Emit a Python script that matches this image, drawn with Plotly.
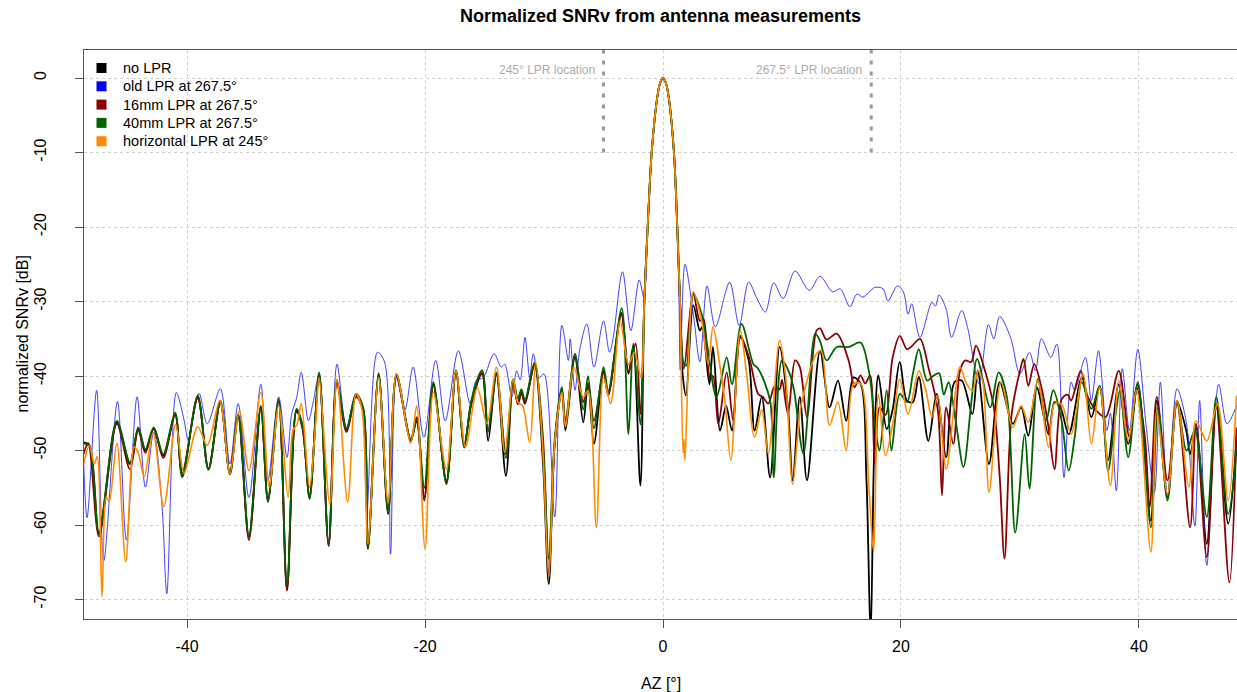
import plotly.graph_objects as go

# ---------------- data ----------------
series_names = ["no LPR", "old LPR at 267.5°", "16mm LPR at 267.5°",
                "40mm LPR at 267.5°", "horizontal LPR at 245°"]
series_colors = ["#000000", "#2b2bff", "#8b0000", "#006400", "#ff8c00"]
legend_colors = ["#000000", "#0000ff", "#8b0000", "#006400", "#ff8c00"]
series_widths = [1.8, 0.9, 1.8, 1.8, 1.6]

az_no_lpr = [-48.7, -48.2, -47.4, -45.9, -44.8, -44.1, -43.5, -42.8, -42.0, -41.0, -40.4, -39.1, -38.2,
             -37.2, -36.4, -35.7, -34.8, -33.8, -33.2, -32.3, -31.6, -30.8, -30.3, -29.7, -28.9, -28.1,
             -27.4, -26.6, -25.8, -25.2, -24.8, -23.9, -23.1, -22.4, -21.2, -20.7, -20.06, -19.3, -18.2,
             -17.4, -16.7, -16.1, -15.2, -14.7, -14.0, -13.2, -12.6, -12.2, -11.9, -11.6, -10.8, -10.1,
             -9.6, -9.1, -8.5, -8.2, -7.4, -6.7, -6.3, -5.8, -5.0, -4.6, -3.5, -2.9, -2.5, -1.9,
             -1.57, -1.29, -0.95, -0.5, -0.25, 0.0, 0.25, 0.5, 0.92, 1.2, 1.43,
             1.65, 1.93, 2.55, 3.1, 3.3, 3.9, 4.2, 4.8, 5.3, 5.8, 6.5, 7.2, 7.7, 8.3, 9.0, 9.8, 10.5,
             10.9, 11.5, 12.1, 13.2, 14.0, 14.7, 15.4, 16.0, 16.6, 17.1, 17.45, 17.75, 18.1, 18.8, 19.3,
             19.9, 20.5, 21.0, 21.5, 22.3, 23.0, 23.8, 24.5, 25.1, 26.0, 26.45, 27.4, 28.3, 29.4, 30.1,
             30.7, 31.4, 32.4, 32.9, 33.4, 34.1, 35.2, 36.0, 36.7, 37.4, 38.3, 39.1, 39.9, 41.0, 41.5,
             42.4, 43.2, 44.0, 44.3, 44.8, 45.7, 46.5, 47.5, 48.2]
snr_no_lpr = [-48.9, -49.3, -61.2, -46.2, -51.8, -47.1, -50.0, -47.1, -50.7, -45.1, -53.4, -42.8, -52.5,
              -43.5, -53.1, -45.3, -61.6, -44.2, -56.7, -43.3, -68.6, -44.6, -46.8, -56.3, -39.7, -62.8,
              -40.8, -47.3, -42.6, -44.4, -63.2, -39.8, -58.5, -39.9, -48.7, -46.0, -56.3, -41.1, -54.3,
              -39.3, -49.1, -43.7, -39.7, -48.7, -39.7, -53.4, -40.6, -43.7, -42.2, -43.7, -38.4, -51.3,
              -67.9, -49.1, -41.9, -47.3, -37.5, -46.2, -40.9, -49.1, -39.3, -42.4, -31.7, -39.7, -35.9, -54.7,
              -30.0, -20.0, -10.0, -2.8, -0.7, 0.0, -0.7, -2.8, -10.0, -20.0, -30.0,
              -39.7, -42.6, -30.5, -33.9, -33.4, -41.1, -36.1, -47.3, -44.0, -47.3, -34.8, -37.9, -47.3,
              -42.8, -53.6, -36.1, -44.2, -54.0, -42.8, -54.0, -36.6, -44.2, -40.6, -46.0, -40.2, -41.0,
              -54.0, -75.0, -50.0, -39.9, -47.1, -44.5, -38.1, -43.3, -43.5, -40.1, -48.7, -42.4, -50.9,
              -40.8, -40.6, -45.1, -39.3, -51.8, -40.8, -46.4, -44.2, -48.0, -41.5, -47.8, -43.5, -44.2,
              -47.8, -40.2, -45.5, -41.5, -51.3, -41.1, -49.1, -41.1, -59.4, -43.3, -56.3, -43.5, -47.5,
              -50.5, -46.9, -62.5, -43.7, -59.8, -48.2]

az_old_lpr = [-48.7, -48.4, -47.6, -47.0, -45.85, -45.1, -44.2, -43.5, -42.8, -42.1, -41.7, -40.9, -40.25,
              -39.9, -39.0, -38.3, -37.2, -36.4, -35.7, -34.8, -33.8, -33.2, -32.3, -31.6, -31.2, -30.8,
              -30.4, -29.8, -29.4, -28.9, -28.1, -27.4, -26.6, -25.8, -25.3, -24.9, -24.0, -23.4, -22.9,
              -22.4, -21.7, -21.0, -20.1, -19.1, -18.3, -17.2, -16.2, -15.7, -15.1, -14.2, -13.6, -13.3,
              -12.7, -12.3, -12.0, -11.6, -11.2, -10.9, -10.4, -10.0, -9.1, -8.5, -7.95, -7.8, -7.4,
              -7.0, -6.4, -5.8, -5.0, -4.5, -4.2, -3.4, -2.7, -2.0, -1.6,
              -1.29, -0.95, -0.5, -0.25, 0.0, 0.25, 0.5, 0.92, 1.2, 1.35,
              1.45, 1.85, 2.55, 3.1, 3.7, 4.4, 5.6, 6.4, 7.2, 7.9, 8.6, 9.3, 10.1, 11.1, 12.3, 13.2,
              14.25, 14.9, 15.7, 16.3, 16.8, 17.8, 18.5, 18.9, 19.7, 20.2, 20.6, 20.9, 21.6, 22.6, 22.9,
              23.2, 23.8, 24.25, 25.1, 25.6, 26.55, 27.35, 27.8, 28.3, 29.2, 30.0, 30.8, 31.3, 31.8,
              32.6, 33.1, 33.7, 34.3, 34.6, 35.5, 36.0, 36.6, 37.3, 37.6, 38.1, 38.6, 39.2, 39.9, 40.6,
              41.3, 41.8, 42.4, 43.2, 44.0, 44.7, 45.1, 45.7, 46.7, 47.4, 48.2]
snr_old_lpr = [-51.3, -59.0, -41.9, -64.8, -43.4, -62.0, -42.8, -54.9, -47.5, -57.5, -69.2, -42.2, -45.9,
               -48.6, -42.3, -46.4, -41.7, -51.8, -43.7, -56.3, -41.1, -54.0, -42.8, -50.9, -45.0, -43.0,
               -39.5, -46.0, -43.5, -39.7, -62.8, -38.4, -46.9, -42.4, -44.0, -58.5, -36.8, -38.1, -63.9,
               -40.2, -44.6, -38.8, -48.2, -37.9, -46.0, -36.6, -43.7, -40.6, -40.2, -37.0, -38.8, -38.4,
               -42.8, -39.3, -40.5, -34.8, -40.2, -37.0, -40.2, -39.7, -58.9, -33.2, -37.9, -35.0, -41.9,
               -36.5, -33.0, -38.8, -32.6, -36.8, -35.0, -26.0, -33.9, -27.1, -29.5,
               -20.0, -10.0, -2.8, -0.7, 0.0, -0.7, -2.8, -10.0, -20.0, -30.0,
               -39.2, -25.0, -31.7, -38.1, -27.9, -33.4, -27.4, -33.2, -27.4, -29.6, -31.4, -27.5, -29.6,
               -25.9, -28.5, -26.6, -28.7, -28.3, -30.7, -29.0, -29.4, -28.1, -28.3, -29.9, -27.9, -28.7,
               -31.7, -30.3, -34.8, -30.1, -30.6, -29.1, -31.0, -34.8, -31.2, -33.5, -41.0, -33.1, -35.0,
               -32.0, -34.8, -39.7, -36.8, -39.3, -35.0, -37.5, -35.7, -53.6, -40.8, -41.9, -37.5, -43.3,
               -36.6, -47.3, -45.0, -55.4, -39.0, -47.3, -36.4, -46.6, -55.6, -40.8, -56.3, -41.7, -46.4,
               -60.1, -43.3, -65.4, -41.1, -46.4, -44.0]

az_16mm = [-48.7, -48.3, -47.4, -45.9, -44.8, -44.1, -43.5, -42.8, -42.0, -41.0, -40.4, -39.1, -38.2,
           -37.2, -36.4, -35.7, -34.8, -33.8, -33.2, -32.3, -31.6, -30.8, -30.3, -29.7, -28.9, -28.1,
           -27.4, -26.6, -25.8, -25.2, -24.8, -23.9, -23.1, -22.4, -21.2, -20.7, -20.06, -19.3, -18.2,
           -17.4, -16.7, -16.1, -15.2, -14.7, -14.0, -13.2, -12.6, -12.2, -11.9, -11.6, -10.8, -10.1,
           -9.6, -9.1, -8.5, -8.2, -7.4, -6.7, -6.3, -5.8, -5.0, -4.6, -3.5, -2.9, -2.3, -1.9,
           -1.57, -1.29, -0.95, -0.5, -0.25, 0.0, 0.25, 0.5, 0.92, 1.2, 1.43,
           1.76, 2.55, 3.1, 3.4, 3.95, 4.2, 4.65, 5.35, 5.9, 6.5, 7.3, 8.0, 8.4, 8.85, 9.4, 9.8, 10.0,
           10.5, 11.1, 11.5, 12.1, 12.9, 13.2, 13.75, 14.6, 15.6, 16.1, 16.6, 17.0, 17.4, 17.8, 18.2,
           18.7, 19.3, 19.9, 20.5, 20.9, 21.6, 22.3, 23.1, 23.45, 23.8, 24.4, 24.96, 25.4, 25.9, 26.3,
           26.9, 27.8, 28.3, 28.7, 29.3, 30.0, 30.3, 30.7, 31.2, 31.8, 32.4, 32.9, 33.5, 34.0, 34.3,
           35.1, 35.7, 36.4, 37.2, 38.3, 39.2, 39.8, 40.5, 40.9, 41.5, 42.4, 43.2, 44.3, 44.8, 45.7,
           46.5, 47.6, 48.2]
snr_16mm = [-50.5, -49.0, -61.5, -46.4, -52.5, -47.3, -50.3, -47.0, -51.0, -45.2, -53.0, -43.0, -52.4,
            -43.6, -53.0, -45.5, -62.0, -44.3, -56.5, -43.4, -68.8, -44.8, -47.0, -56.0, -39.9, -62.5,
            -41.0, -47.5, -42.8, -44.6, -63.0, -40.0, -58.0, -40.0, -48.5, -45.5, -56.7, -41.3, -54.0,
            -39.5, -49.3, -43.5, -39.5, -47.3, -39.8, -50.5, -40.8, -43.8, -42.3, -43.5, -38.6, -48.0,
            -66.5, -49.0, -41.8, -46.0, -37.3, -43.5, -41.0, -46.0, -39.5, -42.6, -31.5, -39.5, -35.6, -45.1,
            -30.0, -20.0, -10.0, -2.8, -0.7, 0.0, -0.7, -2.8, -10.0, -20.0, -30.0,
            -39.0, -29.0, -32.6, -32.3, -40.2, -40.0, -46.4, -39.5, -46.0, -34.6, -37.9, -42.4, -42.8,
            -43.7, -41.3, -41.8, -40.5, -45.1, -37.9, -38.8, -45.5, -33.9, -33.6, -35.1, -34.3, -37.9,
            -41.5, -39.9, -41.0, -39.9, -51.8, -44.2, -45.2, -37.5, -34.6, -36.4, -36.0, -35.0, -38.8,
            -44.6, -56.0, -44.2, -49.1, -39.3, -37.9, -38.1, -35.9, -38.4, -44.2, -53.6, -64.5, -45.1,
            -39.3, -37.7, -41.3, -38.4, -41.5, -46.9, -52.5, -43.1, -42.5, -43.3, -39.3, -42.8, -44.6,
            -45.5, -39.3, -48.2, -41.5, -48.2, -57.6, -42.8, -54.0, -43.7, -60.3, -46.4, -64.3, -44.2,
            -67.7, -46.9]

az_40mm = [-48.7, -48.2, -47.4, -45.9, -44.8, -44.1, -43.5, -42.8, -42.0, -41.0, -40.4, -39.1, -38.2,
           -37.2, -36.4, -35.7, -34.8, -33.8, -33.2, -32.3, -31.6, -30.8, -30.3, -29.7, -28.9, -28.1,
           -27.4, -26.6, -25.8, -25.2, -24.8, -23.9, -23.1, -22.4, -21.2, -20.7, -20.06, -19.3, -18.2,
           -17.4, -16.7, -16.1, -15.2, -14.7, -14.0, -13.2, -12.6, -12.2, -11.9, -11.6, -10.8, -10.1,
           -9.6, -9.1, -8.5, -8.2, -7.4, -6.7, -6.3, -5.8, -5.0, -4.6, -3.47, -2.9, -2.5, -1.9,
           -1.57, -1.29, -0.95, -0.5, -0.25, 0.0, 0.25, 0.5, 0.92, 1.2, 1.43,
           1.7, 1.95, 2.55, 3.25, 3.7, 4.5, 5.35, 5.8, 6.6, 7.6, 8.0, 9.0, 9.3, 10.0, 10.6, 11.0, 11.8,
           12.8, 13.2, 13.75, 14.6, 15.6, 16.6, 17.3, 17.95, 18.2, 18.8, 19.2, 19.9, 20.5, 21.0, 21.5,
           22.2, 22.7, 23.2, 23.6, 24.0, 24.6, 25.25, 25.9, 26.4, 27.5, 28.2, 28.9, 29.6, 30.4, 30.8,
           31.5, 32.2, 32.8, 33.5, 34.1, 34.6, 35.2, 36.0, 36.7, 37.4, 38.0, 38.4, 39.1, 39.9, 41.0,
           41.6, 42.4, 43.2, 44.0, 44.7, 45.7, 46.5, 47.5, 48.2]
snr_40mm = [-49.0, -49.5, -61.0, -46.0, -51.6, -46.9, -49.8, -46.9, -50.5, -44.9, -53.6, -42.6, -52.6,
            -43.3, -53.2, -45.1, -61.4, -44.0, -56.9, -43.1, -68.0, -44.4, -46.6, -56.5, -39.5, -62.6,
            -40.6, -47.1, -42.4, -44.2, -63.0, -39.6, -58.3, -39.7, -48.5, -45.8, -55.0, -40.8, -54.5,
            -39.2, -49.6, -43.2, -39.2, -47.5, -39.5, -51.0, -40.4, -43.0, -41.8, -43.2, -38.2, -49.0,
            -64.5, -48.5, -41.5, -46.5, -37.0, -44.5, -40.0, -47.0, -38.8, -42.0, -30.9, -47.8, -35.6, -46.5,
            -30.0, -20.0, -10.0, -2.8, -0.7, 0.0, -0.7, -2.8, -10.0, -20.0, -30.0,
            -38.1, -38.6, -29.0, -31.7, -35.7, -42.8, -37.5, -41.1, -33.0, -38.4, -39.0, -43.3, -53.6,
            -37.9, -39.5, -41.8, -50.4, -34.3, -35.3, -37.9, -36.1, -36.1, -35.5, -39.3, -48.2, -50.0,
            -41.9, -50.0, -42.4, -43.5, -39.7, -36.4, -40.6, -40.0, -39.6, -42.5, -40.8, -46.0, -52.2,
            -43.7, -37.7, -44.2, -39.5, -42.8, -61.0, -47.8, -55.1, -40.4, -46.0, -41.9, -46.0, -52.7,
            -48.2, -40.8, -44.4, -41.3, -52.7, -45.5, -42.0, -50.9, -40.8, -60.3, -44.2, -56.7, -43.3,
            -50.0, -47.3, -58.9, -42.8, -58.5, -50.0]

az_horizontal = [-48.7, -48.2, -47.8, -47.55, -47.15, -46.8, -46.55, -45.9, -45.15, -44.45, -44.1, -43.6,
                 -42.85, -41.95, -40.95, -40.25, -39.1, -38.3, -37.25, -36.4, -35.6, -34.8, -33.8, -33.1,
                 -32.3, -31.5, -31.1, -30.75, -30.4, -29.7, -29.2, -28.9, -28.0, -27.4, -26.5, -25.8,
                 -25.3, -24.8, -23.9, -23.1, -22.4, -21.2, -20.7, -20.0, -19.3, -18.2, -17.4, -16.6,
                 -15.6, -14.8, -14.0, -13.3, -12.6, -12.2, -11.8, -11.2, -10.7, -10.1, -9.6, -9.1, -8.5,
                 -8.2, -7.5, -6.7, -6.3, -5.6, -5.0, -4.4, -3.6, -2.9, -2.4, -1.85,
                 -1.57, -1.29, -0.95, -0.5, -0.25, 0.0, 0.25, 0.5, 0.92, 1.2, 1.43,
                 1.68, 1.76, 1.85, 2.1, 2.55, 3.25, 3.8, 4.2, 4.8, 5.2, 5.7, 6.5, 7.0, 7.7, 8.3, 8.85,
                 9.8, 10.3, 10.9, 11.6, 12.9, 13.3, 14.0, 14.7, 15.4, 16.0, 16.6, 17.3, 17.7, 18.1, 18.7,
                 19.3, 19.9, 20.6, 21.5, 22.1, 22.6, 23.1, 23.8, 24.96, 25.5, 26.0, 26.5, 26.9, 27.4,
                 28.4, 29.4, 30.1, 30.7, 31.5, 32.4, 32.9, 33.5, 34.3, 35.3, 36.0, 36.7, 37.6, 38.3, 39.1,
                 39.8, 41.0, 41.5, 42.4, 43.2, 44.2, 44.8, 45.7, 46.6, 47.5, 48.2]
snr_horizontal = [-51.8, -49.3, -51.8, -50.8, -69.6, -56.2, -56.9, -49.0, -64.9, -49.5, -50.3, -53.5,
                  -47.6, -57.5, -46.5, -53.0, -46.8, -49.3, -43.3, -53.1, -44.6, -52.7, -42.2, -54.9,
                  -44.0, -56.3, -47.3, -46.5, -43.7, -54.9, -46.6, -40.2, -57.2, -40.4, -56.9, -42.4,
                  -44.5, -62.5, -40.2, -57.0, -39.7, -49.0, -44.0, -63.2, -42.2, -52.5, -39.3, -49.5,
                  -41.6, -46.4, -38.8, -50.2, -40.4, -43.5, -44.0, -48.9, -38.1, -50.0, -67.0, -49.0, -42.2,
                  -46.8, -38.8, -42.8, -42.0, -60.3, -40.2, -43.7, -32.6, -38.4, -36.8, -40.2,
                  -30.0, -20.0, -10.0, -2.8, -0.7, 0.0, -0.7, -2.8, -10.0, -20.0, -30.0,
                  -50.3, -48.5, -51.3, -40.0, -28.7, -32.6, -38.4, -33.4, -38.8, -43.3, -51.3, -33.9,
                  -39.3, -48.2, -44.5, -50.4, -35.2, -40.0, -54.5, -44.0, -37.0, -36.6, -46.6, -43.5,
                  -50.0, -41.1, -41.0, -54.9, -63.6, -42.4, -50.7, -46.5, -40.4, -45.1, -39.3, -42.0,
                  -45.5, -42.6, -52.5, -38.8, -41.0, -42.0, -39.3, -41.0, -55.6, -40.8, -46.9, -44.0,
                  -46.2, -40.6, -49.6, -43.7, -43.8, -47.8, -39.7, -49.1, -41.5, -54.7, -40.6, -48.7,
                  -41.9, -63.6, -44.6, -55.8, -43.3, -54.9, -46.0, -48.7, -43.7, -56.7, -42.6]

lpr_locations = [-5.0, 17.5]
lpr_labels = ["245° LPR location", "267.5° LPR location"]

x_ticks = [-40, -20, 0, 20, 40]
y_ticks = [0, -10, -20, -30, -40, -50, -60, -70]
x_range = [-48.66, 48.24]
y_range = [-72.6, 3.76]

all_az = [az_no_lpr, az_old_lpr, az_16mm, az_40mm, az_horizontal]
all_snr = [snr_no_lpr, snr_old_lpr, snr_16mm, snr_40mm, snr_horizontal]

# ---------------- layout constants (pixels) ----------------
W, H = 1237, 692
ML, MR, MT, MB = 84, 0, 50, 73
PW, PH = W - ML - MR, H - MT - MB


def px_x(px):
    return (px - ML) / PW


def px_y(py):
    return (H - MB - py) / PH


FONT = "Liberation Sans, Arial, Helvetica, sans-serif"

fig = go.Figure()

for name, color, width, xs, ys in zip(series_names, series_colors, series_widths, all_az, all_snr):
    fig.add_trace(go.Scatter(
        x=xs, y=ys, mode="lines", name=name, showlegend=False,
        line=dict(color=color, width=width, shape="spline", smoothing=0.9),
        hoverinfo="x+y+name"))

# legend drawn like R's legend(pch=15, bty="n"): filled squares + labels
legend_row_px = [68, 86.3, 104.6, 122.9, 141.2]
for label, color, cy in zip(series_names, legend_colors, legend_row_px):
    fig.add_shape(type="rect", xref="paper", yref="paper",
                  x0=px_x(96.5), x1=px_x(106.5), y0=px_y(cy + 5), y1=px_y(cy - 5),
                  line=dict(width=0), fillcolor=color, layer="above")
    fig.add_annotation(x=px_x(121), y=px_y(cy), xref="paper", yref="paper", text=label,
                       showarrow=False, xanchor="left", yanchor="middle",
                       font=dict(family=FONT, size=14.5, color="#000000"))

# LPR location markers
for loc, label in zip(lpr_locations, lpr_labels):
    fig.add_shape(type="line", xref="x", yref="y", x0=loc, x1=loc, y0=-10, y1=y_range[1],
                  line=dict(color="#9a9a9a", width=3, dash="4px,7px"))
    fig.add_annotation(x=loc, y=1.05, xref="x", yref="y", text=label, showarrow=False,
                       xanchor="right", yanchor="middle", xshift=-7,
                       font=dict(family=FONT, size=12, color="#ababab"))

# axis titles
fig.add_annotation(x=0.5, y=px_y(683), xref="paper", yref="paper",
                   text="AZ [°]", showarrow=False, xanchor="center", yanchor="middle",
                   font=dict(family=FONT, size=16, color="#000000"))
fig.add_annotation(x=px_x(22), y=0.5, xref="paper", yref="paper",
                   text="normalized SNRv [dB]", showarrow=False, textangle=-90,
                   xanchor="center", yanchor="middle",
                   font=dict(family=FONT, size=16, color="#000000"))

fig.update_layout(
    width=W, height=H,
    margin=dict(l=ML, r=MR, t=MT, b=MB),
    paper_bgcolor="white", plot_bgcolor="white",
    font=dict(family=FONT, size=16, color="#000000"),
    title=dict(text="<b>Normalized SNRv from antenna measurements</b>",
               x=0.5, xref="paper", xanchor="center",
               y=1 - 16 / H, yref="container", yanchor="middle",
               font=dict(family=FONT, size=18, color="#000000")),
    showlegend=False,
)

fig.update_xaxes(
    range=x_range, tickmode="array", tickvals=x_ticks, ticktext=[str(t) for t in x_ticks],
    showgrid=True, gridcolor="#d0d0d0", griddash="dot", gridwidth=1,
    zeroline=False, showline=True, linecolor="#555555", linewidth=1, mirror=True,
    ticks="outside", ticklen=8, tickcolor="#555555", ticklabelstandoff=5,
    tickfont=dict(family=FONT, size=16))
fig.update_yaxes(
    range=y_range, tickmode="array", tickvals=y_ticks, ticktext=[str(t) for t in y_ticks],
    showgrid=True, gridcolor="#d0d0d0", griddash="dot", gridwidth=1,
    zeroline=False, showline=True, linecolor="#555555", linewidth=1, mirror=False,
    ticks="outside", ticklen=8, tickcolor="#555555", tickangle=-90, ticklabelstandoff=23,
    tickfont=dict(family=FONT, size=16))

fig.write_html("out.html", config={"displayModeBar": False},
               post_script="document.body.style.margin='0px';")
